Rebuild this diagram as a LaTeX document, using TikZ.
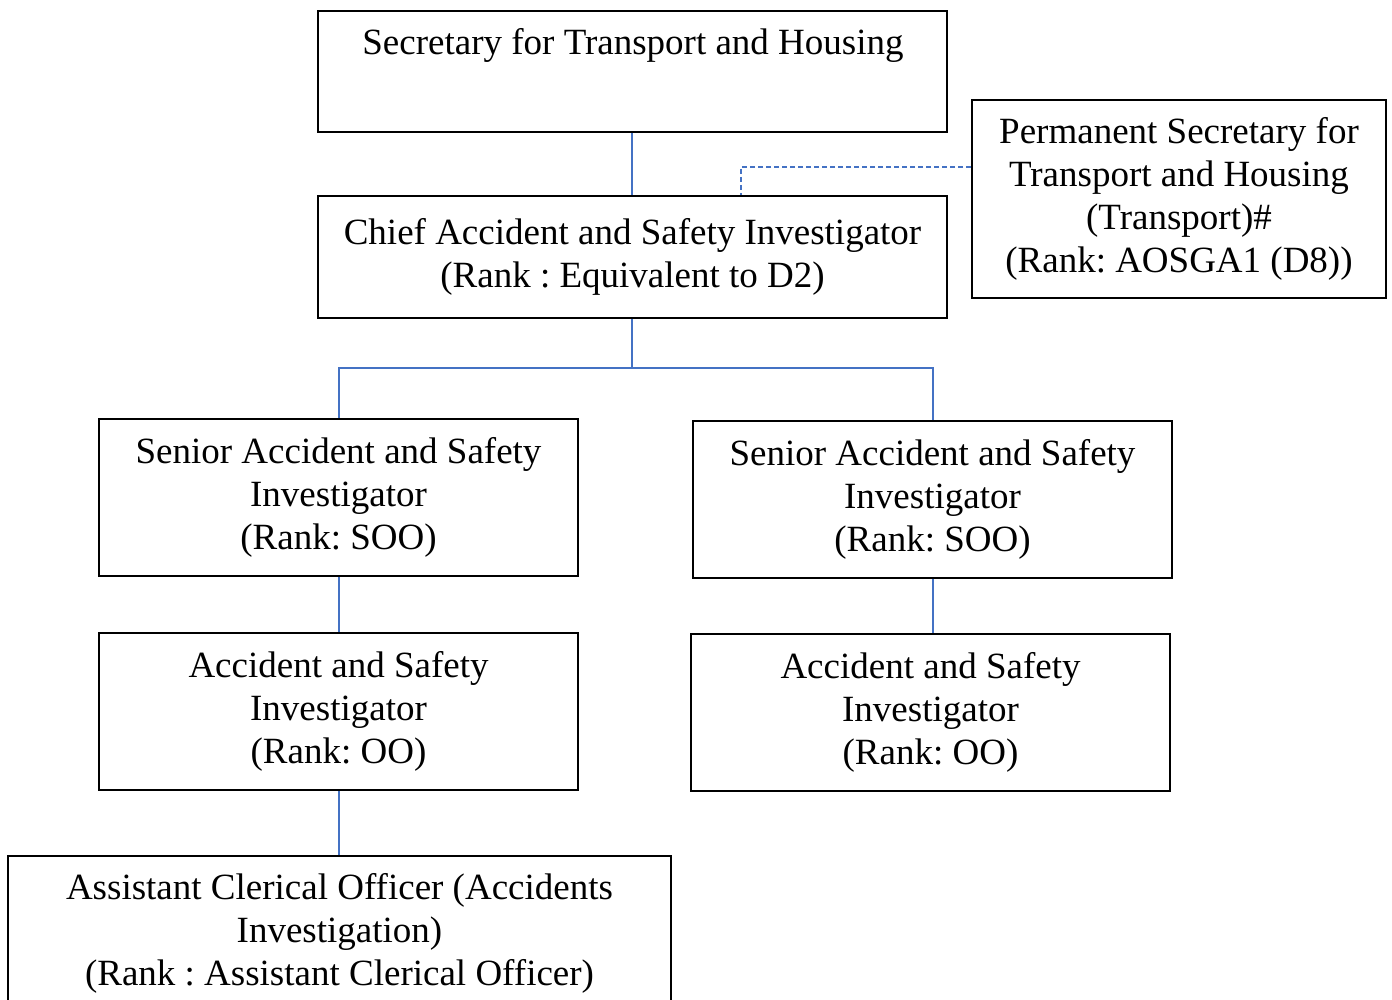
\documentclass[tikz,border=0pt]{standalone}
\usepackage{fontspec}
\setmainfont{Liberation Serif}
\frenchspacing
\definecolor{lineblue}{RGB}{68,114,196}
\begin{document}
\begin{tikzpicture}[x=1pt,y=-1pt,
  box/.style={draw=black,line width=1.8pt,inner sep=0pt,align=center,
    font=\fontsize{37}{43}\selectfont},
  txt/.style={inner sep=0pt,align=center,font=\fontsize{37}{43}\selectfont},
  link/.style={draw=lineblue,line width=1.8pt},
  dlink/.style={draw=lineblue,line width=1.8pt,dash pattern=on 5pt off 3pt}]
\useasboundingbox (0,0) rectangle (1392,1000);
\clip (0,0) rectangle (1392,1000);
% boxes
\node[box,minimum width=629pt,minimum height=121pt] (sec) at (632.5,71.5) {};
\node[txt] (sect) at (633,45) {Secretary for Transport and Housing};
\node[box,minimum width=629pt,minimum height=122pt] (chief) at (632.5,257)
  {Chief Accident and Safety Investigator\\(Rank : Equivalent to D2)};
\node[box,minimum width=414pt,minimum height=198pt] (ps) at (1179,199)
  {Permanent Secretary for\\Transport and Housing\\(Transport)\#\\(Rank: AOSGA1 (D8))};
\node[box,minimum width=479pt,minimum height=157pt] (sl) at (338.5,497.5)
  {Senior Accident and Safety\\Investigator\\(Rank: SOO)};
\node[box,minimum width=479pt,minimum height=157pt] (sr) at (932.5,499.5)
  {Senior Accident and Safety\\Investigator\\(Rank: SOO)};
\node[box,minimum width=479pt,minimum height=157pt] (al) at (338.5,711.5)
  {Accident and Safety\\Investigator\\(Rank: OO)};
\node[box,minimum width=479pt,minimum height=157pt] (ar) at (930.5,712.5)
  {Accident and Safety\\Investigator\\(Rank: OO)};
\node[box,minimum width=663pt,minimum height=154pt] (aco) at (339.5,933)
  {Assistant Clerical Officer (Accidents\\Investigation)\\(Rank : Assistant Clerical Officer)};
% connectors
\coordinate (j) at (632,368);
\draw[link] (sec.south -| 632,0) -- (chief.north -| 632,0);
\draw[link] (chief.south -| j) -- (j);
\draw[link] (j) -| (sl.north -| 339,0);
\draw[link] (j) -| (sr.north -| 933,0);
\draw[link] (sl.south -| 339,0) -- (al.north -| 339,0);
\draw[link] (sr.south -| 933,0) -- (ar.north -| 933,0);
\draw[link] (al.south -| 339,0) -- (aco.north -| 339,0);
\draw[dlink] (ps.west |- 0,167) -| (chief.north -| 741,0);
\end{tikzpicture}
\end{document}
